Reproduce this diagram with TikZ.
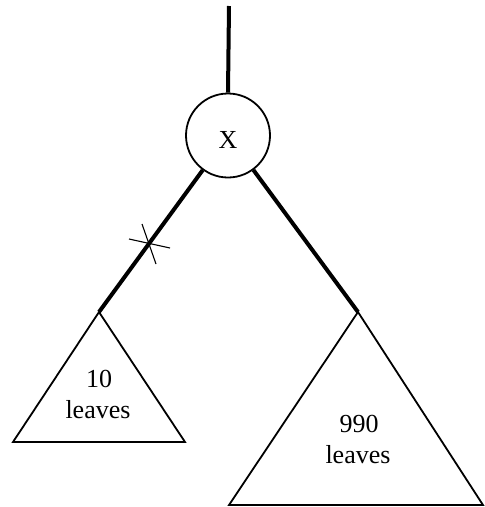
\documentclass[tikz,border=0pt]{standalone}
\usepackage{fontspec}
\setmainfont{Liberation Serif}
\begin{document}
\begin{tikzpicture}[x=1pt,y=-1pt,
  heavy/.style={line width=4pt},
  thinline/.style={line width=1.8pt},
  tick/.style={line width=1.1pt},
  lbl/.style={anchor=base,inner sep=0pt,font=\fontsize{26}{31}\selectfont},
  vertex/.style={circle,draw,line width=1.8pt,minimum size=84pt,inner sep=0pt}]
\useasboundingbox (0,0) rectangle (485,507);
% root
\coordinate (top) at (229,6);
\node[vertex] (x) at (228,135.5) {};
\node[lbl] (xl) at (228,148) {X};
% subtree apexes and bases
\coordinate (la) at (99,312);
\coordinate (lb1) at (13,442);
\coordinate (lb2) at (185,442);
\coordinate (ra) at (358,312);
\coordinate (rb1) at (229,505);
\coordinate (rb2) at (483,505);
% edges
\draw[heavy] (top) -- (x.north);
\draw[heavy] (x) -- (la);
\draw[heavy] (x) -- (ra);
% cross mark
\coordinate (c1) at (129,239);
\coordinate (c2) at (170,248);
\coordinate (c3) at (142,224);
\coordinate (c4) at (156,264);
\draw[tick] (c1) -- (c2);
\draw[tick] (c3) -- (c4);
% triangles
\draw[thinline,line join=miter] (la) -- (lb1) -- (lb2) -- cycle;
\draw[thinline,line join=miter] (ra) -- (rb1) -- (rb2) -- cycle;
% labels
\node[lbl] (l10) at (99,387) {10};
\node[lbl] (lleaves) at (98,418) {leaves};
\node[lbl] (l990) at (359,432) {990};
\node[lbl] (rleaves) at (358,463) {leaves};
\end{tikzpicture}
\end{document}
